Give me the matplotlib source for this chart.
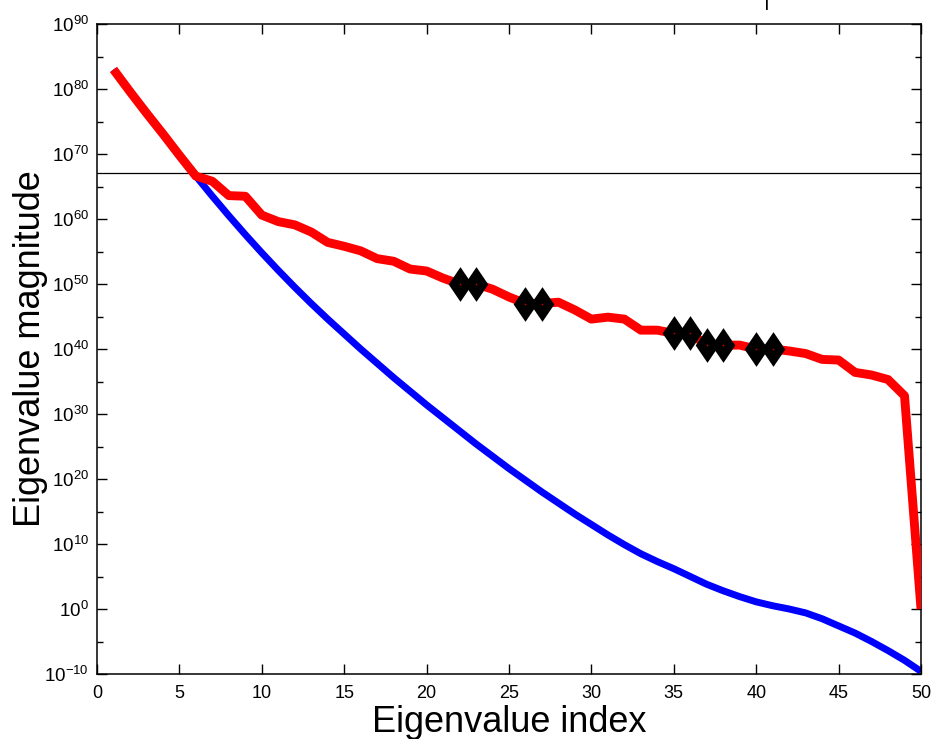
import numpy as np
import matplotlib
matplotlib.use("Agg")
import matplotlib.pyplot as plt
from matplotlib.ticker import FixedLocator, FuncFormatter
from matplotlib.path import Path

plt.rcParams['font.family'] = ['Liberation Sans', 'DejaVu Sans']
plt.rcParams['mathtext.fontset'] = 'custom'
plt.rcParams['mathtext.rm'] = 'Liberation Sans'
plt.rcParams['mathtext.it'] = 'Liberation Sans'

# Data: exponents (log10 of eigenvalue magnitude)
index = list(range(1, 51))
red_exp = [83.0, 79.6, 76.3, 73.1, 69.8, 66.6, 65.8, 63.6, 63.5, 60.6,
           59.6, 59.1, 58.0, 56.4, 55.8, 55.1, 53.9, 53.5, 52.3, 52.0,
           50.9, 50.0, 50.0, 49.2, 48.0, 47.0, 47.0, 47.2, 46.0, 44.6,
           44.9, 44.6, 42.9, 42.9, 42.4, 42.4, 40.6, 40.6, 40.6, 40.0,
           40.0, 39.7, 39.3, 38.4, 38.3, 36.4, 36.0, 35.3, 32.8, 0.0]
blue_exp = [83.0, 79.6, 76.3, 73.1, 69.8, 66.6, 63.5, 60.5, 57.6, 54.8,
            52.1, 49.5, 47.0, 44.6, 42.3, 40.0, 37.8, 35.6, 33.5, 31.4,
            29.4, 27.4, 25.4, 23.5, 21.6, 19.8, 18.0, 16.3, 14.6, 13.0,
            11.4, 9.9, 8.5, 7.3, 6.2, 5.0, 3.8, 2.8, 1.9, 1.1,
            0.5, 0.0, -0.6, -1.5, -2.6, -3.7, -5.0, -6.4, -7.9, -9.6]
marked_idx = [22, 23, 26, 27, 35, 36, 37, 38, 40, 41]
threshold_exp = 67.1

red_vals = [10.0 ** e for e in red_exp]
blue_vals = [10.0 ** e for e in blue_exp]
mark_vals = [red_vals[i - 1] for i in marked_idx]

fig = plt.figure(figsize=(9.34, 7.39), dpi=100)
ax = fig.add_axes([97/934, 65/739, (921-97)/934, (674-24)/739])

diamond = Path([(0, 1), (0.68, 0), (0, -1), (-0.68, 0), (0, 1)],
               [Path.MOVETO, Path.LINETO, Path.LINETO, Path.LINETO, Path.CLOSEPOLY])

ax.plot(index, blue_vals, color='#0000ff', lw=5.0, solid_capstyle='butt', zorder=2)
ax.plot(index, red_vals, color='#ff0000', lw=6.4, solid_capstyle='butt', zorder=3)
ax.plot(marked_idx, mark_vals, linestyle='none', marker=diamond, color='black',
        markersize=25, markeredgewidth=0, zorder=4)
ax.plot(marked_idx, mark_vals, linestyle='none', marker='o', color='#cc0000',
        markersize=1.2, markeredgewidth=0, zorder=5)
ax.axhline(10.0 ** threshold_exp, color='black', lw=0.9, zorder=1)

ax.set_yscale('log')
ax.set_xlim(0, 50)
ax.set_ylim(1e-10, 1e90)

ax.xaxis.set_major_locator(FixedLocator(list(range(0, 51, 5))))
ax.yaxis.set_major_locator(FixedLocator([10.0 ** k for k in range(-10, 91, 10)]))
ax.yaxis.set_minor_locator(FixedLocator([10.0 ** k for k in range(-5, 90, 10)]))

ax.yaxis.set_major_formatter(FuncFormatter(
    lambda v, p: r'$\mathregular{10^{%d}}$' % int(round(np.log10(v)))))
ax.yaxis.set_minor_formatter(FuncFormatter(lambda v, p: ''))

ax.tick_params(which='both', direction='in', top=True, right=True, width=1)
ax.tick_params(axis='x', labelsize=13, pad=8)
ax.tick_params(axis='y', labelsize=13.5, pad=6)
ax.tick_params(which='major', length=7)
ax.tick_params(which='minor', length=4)
for s in ax.spines.values():
    s.set_linewidth(1.1)

ax.set_xlabel('Eigenvalue index', fontsize=26)
ax.set_ylabel('Eigenvalue magnitude', fontsize=26)
ax.xaxis.set_label_coords(0.5, -0.047)
ax.yaxis.set_label_coords(-0.059, 0.5)

fig.text(767/934, 1.0, '|', ha='center', va='center', fontsize=16)

fig.savefig('out.png', dpi=100)
